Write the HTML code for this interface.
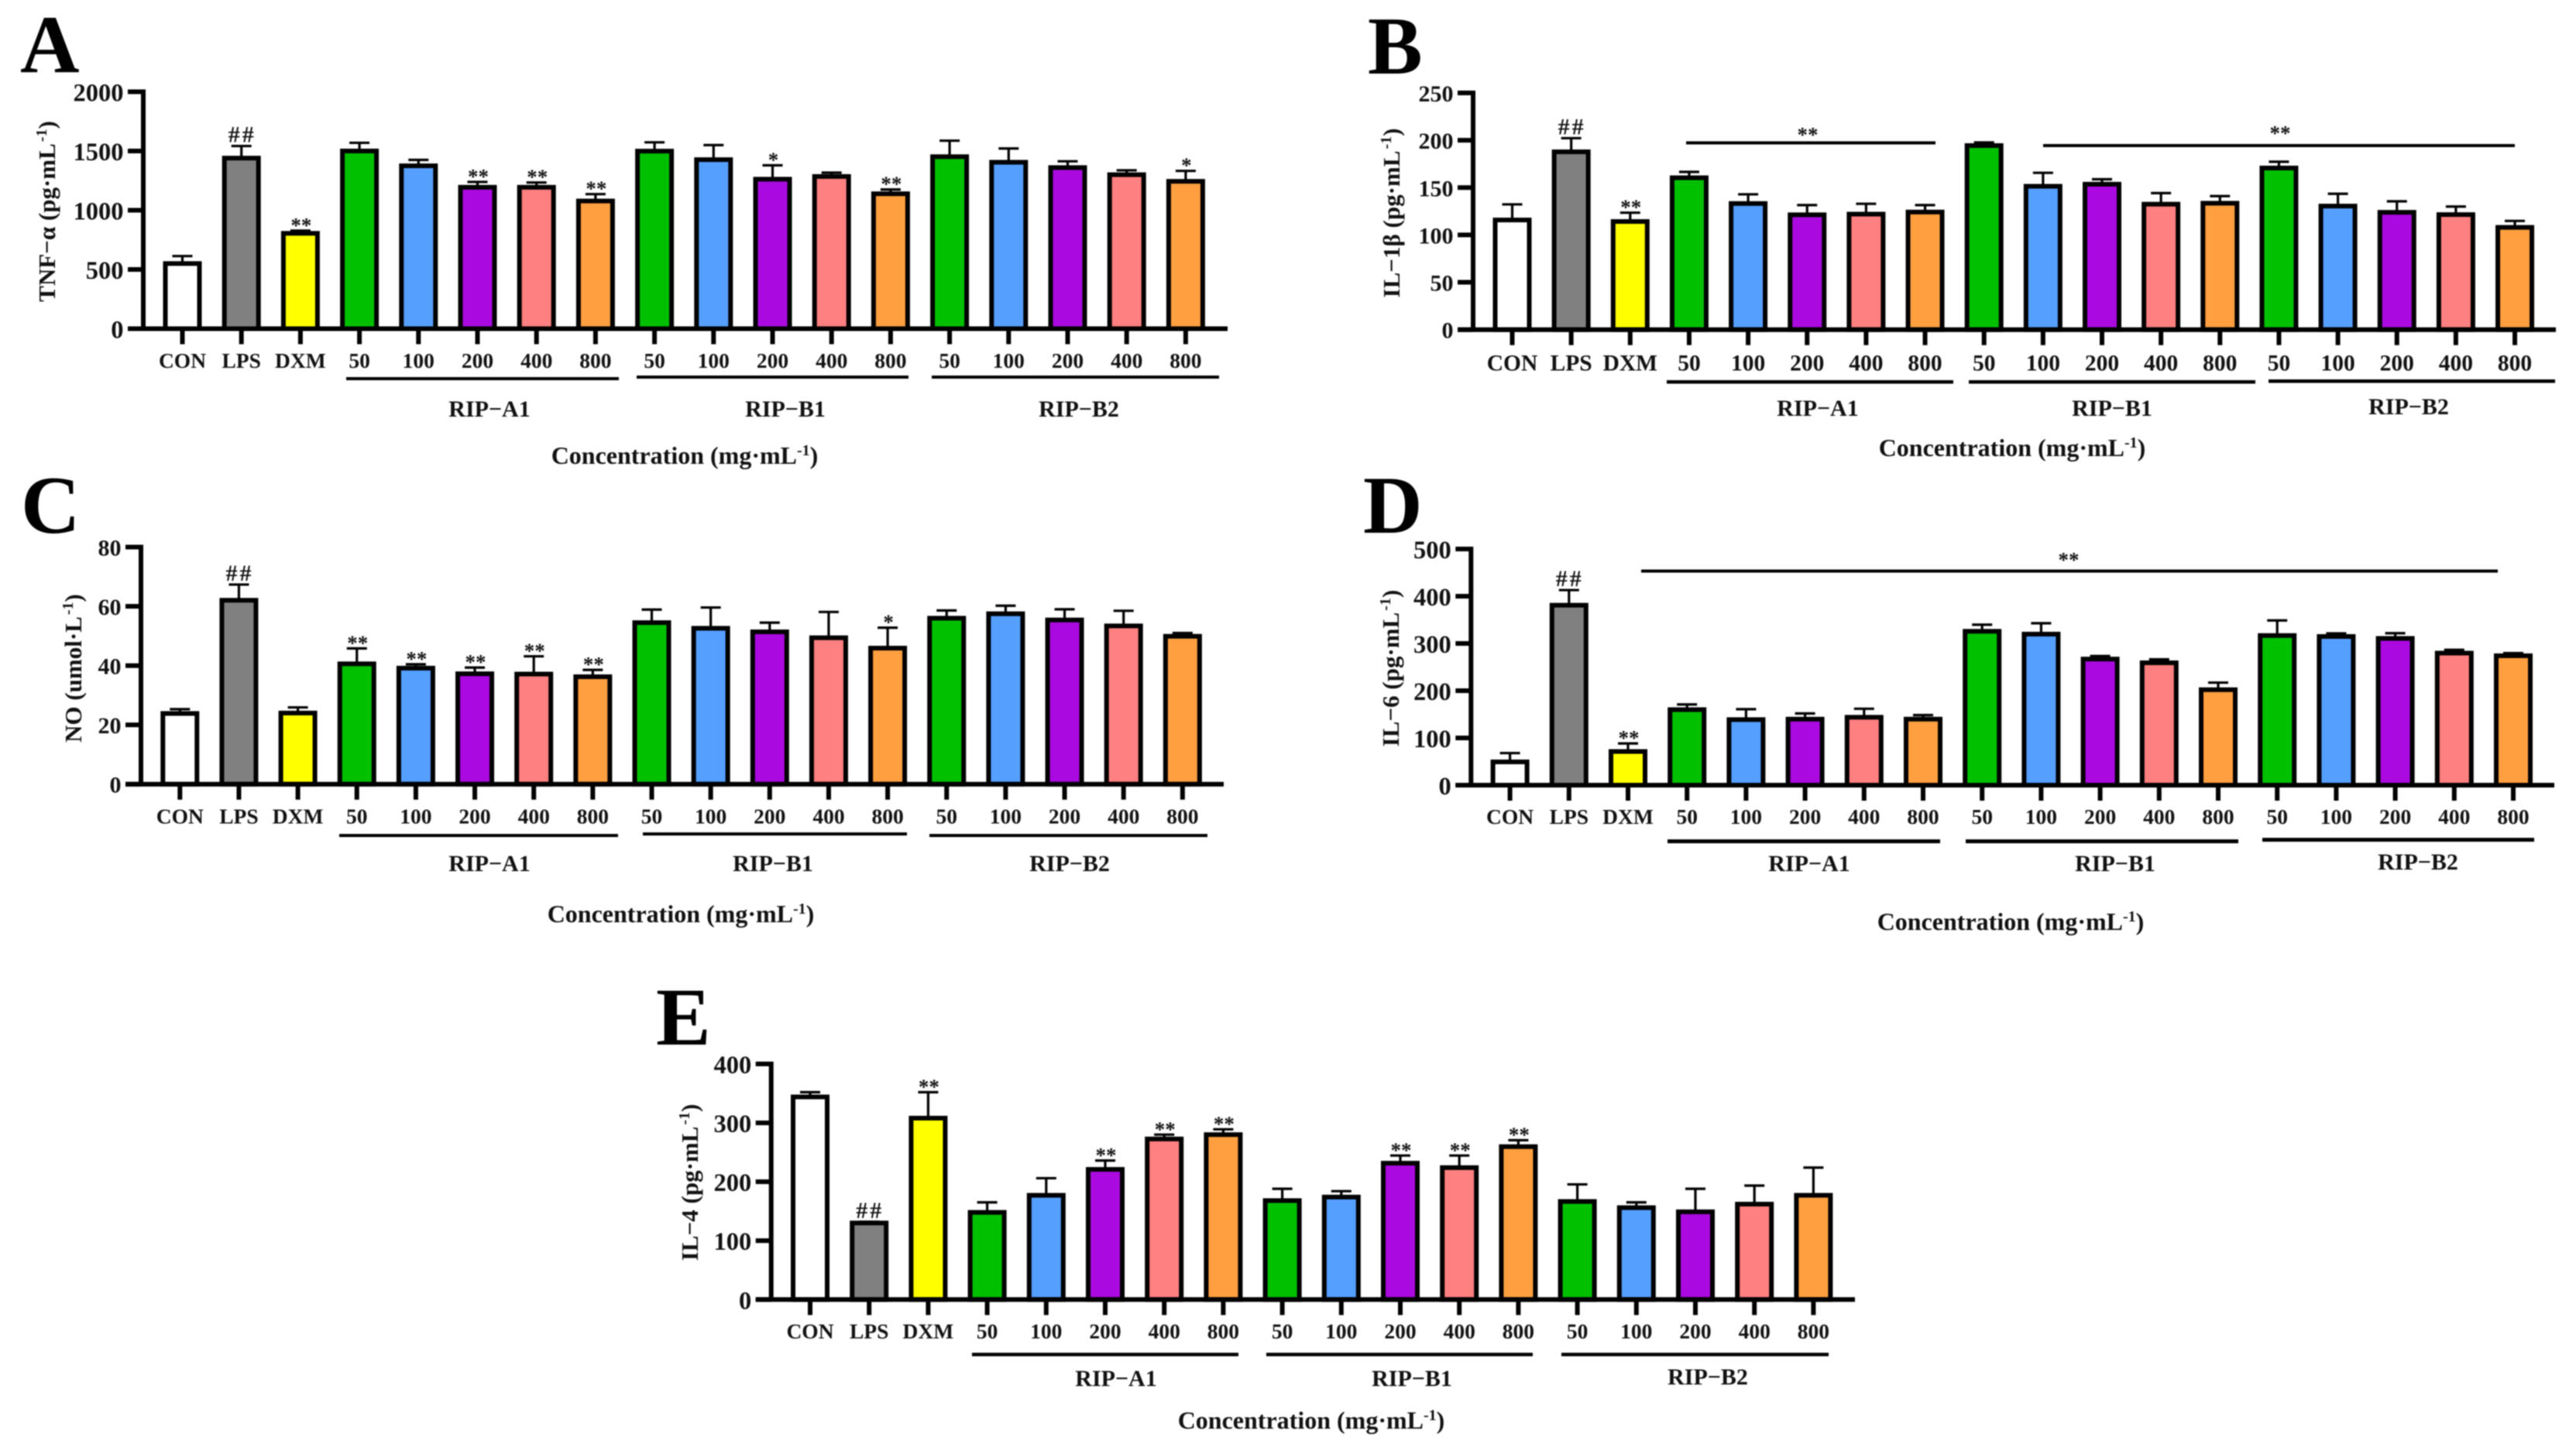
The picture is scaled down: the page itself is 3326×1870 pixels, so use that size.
<!DOCTYPE html>
<html lang="en">
<head>
<meta charset="utf-8">
<title>Cytokine bar charts A–E</title>
<style>
  html, body { margin: 0; padding: 0; background: #fff; }
  body { width: 3326px; height: 1870px; overflow: hidden; }
  svg { display: block; filter: blur(0.7px); }
  text { font-family: "Liberation Serif", "DejaVu Serif", serif; font-weight: bold; fill: #111; }
  .letter { font-size: 106px; fill: #000; }
  .ytitle { font-size: 31px; }
  .xtitle { font-size: 32px; text-anchor: middle; }
  .group { font-size: 30px; text-anchor: middle; }
  .star { font-size: 27px; text-anchor: middle; }
  .rule { fill: #000; }
</style>
</head>
<body>
<svg id="figure" xmlns="http://www.w3.org/2000/svg" width="3326" height="1870" viewBox="0 0 3326 1870">
  <rect width="3326" height="1870" fill="#fff"/>

  <g id="panel-a">
    <text class="letter" x="26" y="93">A</text>
    <text class="ytitle" x="71" y="273" text-anchor="middle" transform="rotate(-90 71 273)">TNF−α (pg·mL<tspan dx="2" dy="-11" font-size="20">-1</tspan><tspan dy="11">)</tspan></text>
    <rect class="rule" x="447" y="487" width="352" height="4"/>
    <rect class="rule" x="822" y="485" width="351" height="4"/>
    <rect class="rule" x="1203" y="485" width="371" height="4"/>
    <text class="group" x="632" y="538">RIP−A1</text>
    <text class="group" x="1014" y="538">RIP−B1</text>
    <text class="group" x="1393" y="538">RIP−B2</text>
    <text class="xtitle" x="884" y="599">Concentration (mg·mL<tspan dy="-11" font-size="20">-1</tspan><tspan dy="11">)</tspan></text>
  </g>

  <g id="panel-b">
    <text class="letter" x="1766" y="95">B</text>
    <text class="ytitle" x="1807" y="275" text-anchor="middle" transform="rotate(-90 1807 275)">IL−1β (pg·mL<tspan dx="2" dy="-11" font-size="20">-1</tspan><tspan dy="11">)</tspan></text>
    <rect class="rule" x="2177" y="182.5" width="322" height="4"/>
    <text class="star" x="2334" y="183">**</text>
    <rect class="rule" x="2638" y="186" width="609" height="4"/>
    <text class="star" x="2944" y="181">**</text>
    <rect class="rule" x="2152" y="491" width="370" height="4.5"/>
    <rect class="rule" x="2542" y="491" width="370" height="4.5"/>
    <rect class="rule" x="2929" y="490" width="370" height="4.5"/>
    <text class="group" x="2347" y="537">RIP−A1</text>
    <text class="group" x="2727" y="537">RIP−B1</text>
    <text class="group" x="3110" y="535">RIP−B2</text>
    <text class="xtitle" x="2598" y="589">Concentration (mg·mL<tspan dy="-11" font-size="20">-1</tspan><tspan dy="11">)</tspan></text>
  </g>

  <g id="panel-c">
    <text class="letter" x="27" y="688">C</text>
    <text class="ytitle" x="105" y="863" text-anchor="middle" transform="rotate(-90 105 863)">NO (umol·L<tspan dx="2" dy="-11" font-size="20">-1</tspan><tspan dy="11">)</tspan></text>
    <rect class="rule" x="438" y="1077" width="360" height="4"/>
    <rect class="rule" x="830" y="1075" width="341" height="4"/>
    <rect class="rule" x="1200" y="1077" width="359" height="4"/>
    <text class="group" x="632" y="1125">RIP−A1</text>
    <text class="group" x="998" y="1125">RIP−B1</text>
    <text class="group" x="1381" y="1125">RIP−B2</text>
    <text class="xtitle" x="879" y="1191">Concentration (mg·mL<tspan dy="-11" font-size="20">-1</tspan><tspan dy="11">)</tspan></text>
  </g>

  <g id="panel-d">
    <text class="letter" x="1760" y="688">D</text>
    <text class="ytitle" x="1806" y="863" text-anchor="middle" transform="rotate(-90 1806 863)">IL−6 (pg·mL<tspan dx="2" dy="-11" font-size="20">-1</tspan><tspan dy="11">)</tspan></text>
    <rect class="rule" x="2119" y="735.5" width="1106" height="4"/>
    <text class="star" x="2671" y="732">**</text>
    <rect class="rule" x="2153" y="1084" width="352" height="5"/>
    <rect class="rule" x="2538" y="1084" width="352" height="5"/>
    <rect class="rule" x="2921" y="1082" width="351" height="5"/>
    <text class="group" x="2336" y="1125">RIP−A1</text>
    <text class="group" x="2731" y="1125">RIP−B1</text>
    <text class="group" x="3122" y="1123">RIP−B2</text>
    <text class="xtitle" x="2596" y="1201">Concentration (mg·mL<tspan dy="-11" font-size="20">-1</tspan><tspan dy="11">)</tspan></text>
  </g>

  <g id="panel-e">
    <text class="letter" x="847" y="1349">E</text>
    <text class="ytitle" x="901" y="1527" text-anchor="middle" transform="rotate(-90 901 1527)">IL−4 (pg·mL<tspan dx="2" dy="-11" font-size="20">-1</tspan><tspan dy="11">)</tspan></text>
    <rect class="rule" x="1255" y="1747" width="344" height="4.5"/>
    <rect class="rule" x="1635" y="1747" width="344" height="4.5"/>
    <rect class="rule" x="2016" y="1747" width="345" height="4.5"/>
    <text class="group" x="1441" y="1790">RIP−A1</text>
    <text class="group" x="1823" y="1790">RIP−B1</text>
    <text class="group" x="2205" y="1788">RIP−B2</text>
    <text class="xtitle" x="1693" y="1845">Concentration (mg·mL<tspan dy="-11" font-size="20">-1</tspan><tspan dy="11">)</tspan></text>
  </g>
</svg>

<script>
// Shared categories
const categories = ['CON','LPS','DXM','50','100','200','400','800','50','100','200','400','800','50','100','200','400','800'];

// Panel A: TNF-alpha
const tnfTicks = [0, 500, 1000, 1500, 2000];
const tnfValues = [550, 1440, 805, 1500, 1375, 1194, 1194, 1078, 1499, 1427, 1262, 1285, 1139, 1452, 1405, 1360, 1300, 1244];
const tnfErrors = [63, 102, 23, 69, 50, 45, 40, 58, 74, 123, 117, 32, 36, 135, 116, 53, 37, 88];
const tnfMarks = ['', '##', '**', '', '', '**', '**', '**', '', '', '*', '', '**', '', '', '', '', '*'];

// Panel B: IL-1 beta
const il1Ticks = [0, 50, 100, 150, 200, 250];
const il1Values = [115.8, 187.8, 114.2, 160.4, 133.2, 121.3, 122, 124.2, 194.4, 151.4, 153.6, 132.5, 133.5, 170.7, 130.5, 123.9, 121.5, 108];
const il1Errors = [16.5, 14.4, 9.3, 6.2, 9.7, 10.2, 10.9, 7.3, 3.3, 14.2, 5.2, 11.7, 7.5, 6.6, 13, 11.6, 8.5, 6.8];
const il1Marks = ['', '##', '**', '', '', '', '', '', '', '', '', '', '', '', '', '', '', ''];

// Panel C: NO
const noTicks = [0, 20, 40, 60, 80];
const noValues = [23.85, 62.05, 24, 40.6, 39.15, 37.25, 37.15, 36.25, 54.5, 52.6, 51.4, 49.4, 45.9, 56, 57.5, 55.4, 53.4, 49.9];
const noErrors = [1.45, 5.3, 1.9, 5.2, 1.3, 2.1, 6, 2.3, 4.4, 7, 3.1, 8.7, 6.9, 2.6, 2.7, 3.6, 5.1, 1.1];
const noMarks = ['', '##', '', '**', '**', '**', '**', '**', '', '', '', '', '*', '', '', '', '', ''];

// Panel D: IL-6
const il6Ticks = [0, 100, 200, 300, 400, 500];
const il6Values = [49.3, 381, 71.3, 159.9, 138.8, 139.8, 143.8, 139.8, 325.8, 319.8, 267, 259.1, 202.1, 316.8, 314.8, 310.7, 279.6, 274];
const il6Errors = [18.6, 32, 17, 11, 22, 12, 18, 8.5, 14, 23, 6.5, 7.3, 15, 32, 6.6, 11, 7, 5.5];
const il6Marks = ['', '##', '**', '', '', '', '', '', '', '', '', '', '', '', '', '', '', ''];

// Panel E: IL-4
const il4Ticks = [0, 100, 200, 300, 400];
const il4Values = [344, 130, 308, 148, 177, 221, 272.6, 280, 168, 174, 231.5, 224, 259.6, 166.5, 156, 149, 162, 177];
const il4Errors = [8, 2, 44, 17, 29, 15, 7.4, 9, 20, 10, 13, 20.5, 10.9, 29, 9, 39, 31.5, 47];
const il4Marks = ['', '##', '**', '', '', '**', '**', '**', '', '', '**', '**', '**', '', '', '', '', ''];

// Bar styling (series look, not data)
const barFills = ['#ffffff','#808080','#ffff00','#00c000','#559fff','#aa0adf','#ff8080','#ff9f40','#00c000','#559fff','#aa0adf','#ff8080','#ff9f40','#00c000','#559fff','#aa0adf','#ff8080','#ff9f40'];

const SVG_NS = 'http://www.w3.org/2000/svg';

function make(tag, attrs, parent) {
  const el = document.createElementNS(SVG_NS, tag);
  for (const k in attrs) el.setAttribute(k, attrs[k]);
  parent.appendChild(el);
  return el;
}

function drawPanel(panelId, frame, ticks, values, errors, marks) {
  const panel = document.getElementById(panelId);
  const chart = document.createElementNS(SVG_NS, 'g');
  
  
  panel.insertBefore(chart, panel.firstChild);

  const maxTick = ticks[ticks.length - 1];
  const yScale = v => frame.y0 - (v / maxTick) * (frame.y0 - frame.yTop);
  const xScale = i => frame.first + frame.step * i;

  categories.forEach((cat, i) => {
    const x = xScale(i);
    const top = yScale(values[i]);
    const capY = yScale(values[i] + errors[i]);

    const stem = make('line', { x1: x, x2: x, y1: top, y2: capY, stroke: '#000', 'stroke-width': 3.2 }, chart);
    
    

    const cap = make('line', { x1: x - 13, x2: x + 13, y1: capY, y2: capY, stroke: '#000', 'stroke-width': 3.2 }, chart);
    
    

    const bar = make('rect', { x: x - 22, y: top, width: 44, height: frame.y0 - top, fill: barFills[i], stroke: '#000', 'stroke-width': 6 }, chart);
    
    

    const tick = make('line', { x1: x, x2: x, y1: frame.y0, y2: frame.y0 + 20, stroke: '#000', 'stroke-width': 6 }, chart);
    
    

    const label = make('text', { x: x, y: frame.y0 + frame.labelDy, 'text-anchor': 'middle', 'font-size': frame.labelFont }, chart);
    label.textContent = cat;
    
    

    if (marks[i]) {
      const isHash = marks[i] === '##';
      const mark = make('text', {
        x: x + 1,
        y: isHash ? capY - 5 : capY + 2,
        'text-anchor': 'middle',
        'font-size': isHash ? 30 : 27,
        'letter-spacing': isHash ? 3 : 0
      }, chart);
      mark.textContent = marks[i];
      
      
    }
  });

  ticks.forEach(t => {
    const y = yScale(t);
    const tk = make('line', { x1: frame.axisX - 20, x2: frame.axisX, y1: y, y2: y, stroke: '#000', 'stroke-width': 6 }, chart);
    
    

    const tl = make('text', { x: frame.axisX - 25.5, y: y + frame.tickDy, 'text-anchor': 'end', 'font-size': frame.tickFont }, chart);
    tl.textContent = String(t);
    
    
  });

  const yAxis = make('line', { x1: frame.axisX, x2: frame.axisX, y1: frame.yTop - 3, y2: frame.y0, stroke: '#000', 'stroke-width': 6 }, chart);
  
  

  const xAxis = make('line', { x1: frame.axisX - 20, x2: frame.xEnd, y1: frame.y0, y2: frame.y0, stroke: '#000', 'stroke-width': 6 }, chart);
  
  
}

drawPanel('panel-a', { axisX: 185, yTop: 118.5, y0: 424.5, first: 235.5, step: 76.2, xEnd: 1585, tickFont: 32.5, tickDy: 12, labelFont: 27.5, labelDy: 50.5 }, tnfTicks, tnfValues, tnfErrors, tnfMarks);
drawPanel('panel-b', { axisX: 1902, yTop: 120, y0: 425.7, first: 1952.5, step: 76.15, xEnd: 3300, tickFont: 30, tickDy: 11, labelFont: 29.5, labelDy: 52.6 }, il1Ticks, il1Values, il1Errors, il1Marks);
drawPanel('panel-c', { axisX: 182, yTop: 706.5, y0: 1012.7, first: 232.3, step: 76.15, xEnd: 1580, tickFont: 30, tickDy: 11, labelFont: 27.5, labelDy: 50.6 }, noTicks, noValues, noErrors, noMarks);
drawPanel('panel-d', { axisX: 1899.3, yTop: 709, y0: 1014, first: 1949.6, step: 76.2, xEnd: 3298, tickFont: 32.5, tickDy: 12, labelFont: 27.5, labelDy: 50 }, il6Ticks, il6Values, il6Errors, il6Marks);
drawPanel('panel-e', { axisX: 995.7, yTop: 1374, y0: 1678.3, first: 1046, step: 76.2, xEnd: 2395, tickFont: 32.5, tickDy: 12, labelFont: 27.5, labelDy: 50 }, il4Ticks, il4Values, il4Errors, il4Marks);
</script>
</body>
</html>
